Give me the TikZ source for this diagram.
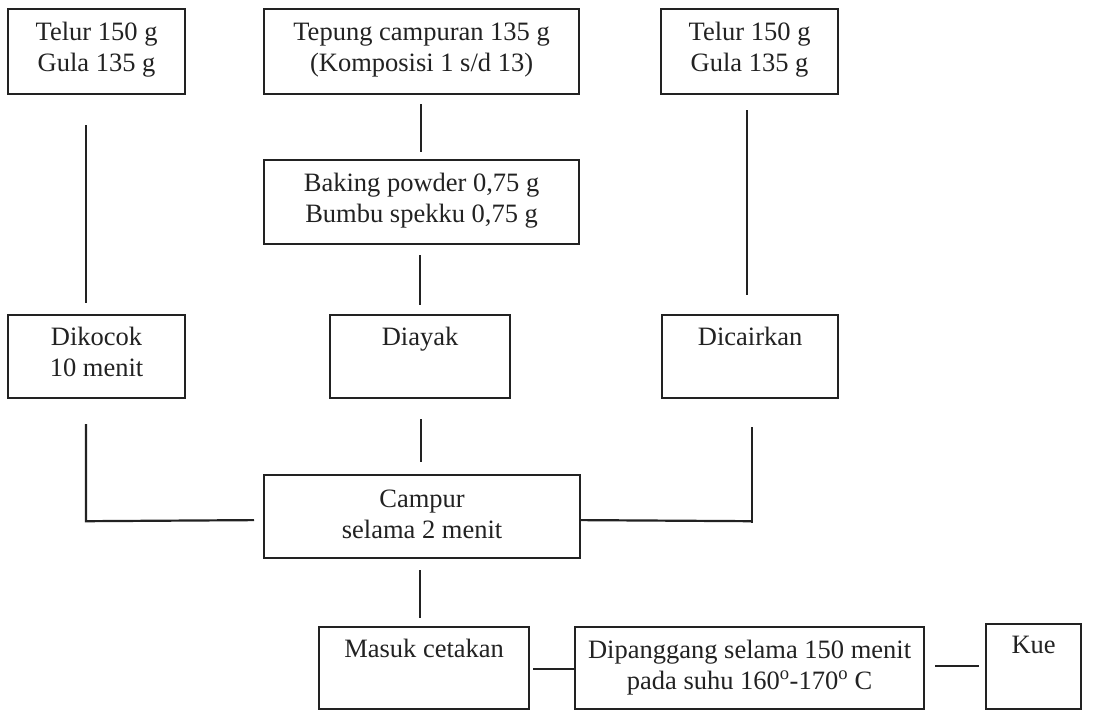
\documentclass[tikz,border=0pt]{standalone}
\usepackage{fontspec}
\setmainfont{Liberation Serif}
\usetikzlibrary{calc}
\definecolor{ink}{HTML}{222222}
\begin{document}
\begin{tikzpicture}[x=1pt,y=-1pt,
  box/.style={draw=ink, line width=2.2pt, anchor=north west, inner sep=0pt, rectangle},
  txt/.style={anchor=base, align=center, inner sep=0pt, font=\fontsize{26.5}{31}\selectfont, text=ink},
  link/.style={draw=ink, line width=2.2pt}]
\useasboundingbox (0,0) rectangle (1093,710);
\fill[white] (0,0) rectangle (1093,710);

% boxes
\node[box, minimum width=177pt, minimum height=85pt] (t1) at (7,8) {};
\node[box, minimum width=315pt, minimum height=85pt] (t2) at (263,8) {};
\node[box, minimum width=177pt, minimum height=85pt] (t3) at (660,8) {};
\node[box, minimum width=315pt, minimum height=84pt] (bp) at (263,159) {};
\node[box, minimum width=177pt, minimum height=83pt] (dk) at (7,314) {};
\node[box, minimum width=180pt, minimum height=83pt] (dy) at (329,314) {};
\node[box, minimum width=176pt, minimum height=83pt] (dc) at (661,314) {};
\node[box, minimum width=316pt, minimum height=83pt] (cp) at (263,474) {};
\node[box, minimum width=210pt, minimum height=82pt] (mc) at (318,626) {};
\node[box, minimum width=349pt, minimum height=82pt] (dp) at (574,626) {};
\node[box, minimum width=95pt, minimum height=85pt] (ku) at (985,623) {};

% texts (anchor=base of a two-line node is the baseline of its last line)
\node[txt] (t1t) at ($(t1.north)+(0,63)$) {Telur 150 g\\Gula 135 g};
\node[txt] (t2t) at ($(t2.north)+(0,63)$) {Tepung campuran 135 g\\(Komposisi 1 s/d 13)};
\node[txt] (t3t) at ($(t3.north)+(0,63)$) {Telur 150 g\\Gula 135 g};
\node[txt] (bpt) at ($(bp.north)+(0,63)$) {Baking powder 0,75 g\\Bumbu spekku 0,75 g};
\node[txt] (dkt) at ($(dk.north)+(0,62)$) {Dikocok\\10 menit};
\node[txt] (dyt) at ($(dy.north)+(0,31)$) {Diayak};
\node[txt] (dct) at ($(dc.north)+(0,31)$) {Dicairkan};
\node[txt] (cpt) at ($(cp.north)+(0,64)$) {Campur\\selama 2 menit};
\node[txt] (mct) at ($(mc.north)+(0,31)$) {Masuk cetakan};
\node[txt] (dpt) at ($(dp.north)+(0,63)$) {Dipanggang selama 150 menit\\pada suhu 160\textsuperscript{o}-170\textsuperscript{o} C};
\node[txt] (kut) at ($(ku.north)+(0,30)$) {Kue};

% connectors
\draw[link] ($(t1.south west)+(79,30)$) -- ($(dk.north west)+(79,-11)$);
\draw[link] ($(t2.south west)+(158,9)$) -- ($(bp.north west)+(158,-7)$);
\draw[link] ($(bp.south west)+(157,10)$) -- ($(dy.north west)+(91,-9)$);
\draw[link] ($(t3.south west)+(87,15)$) -- ($(dc.north west)+(86,-19)$);
\draw[link] ($(dk.south west)+(79,25)$) -- ($(dk.south west)+(79,122)$) -- ($(cp.west)+(-9,3.5)$);
\draw[link] ($(dy.south west)+(92,20)$) -- ($(cp.north west)+(158,-12)$);
\draw[link] ($(dc.south west)+(91,28)$) -- ($(dc.south west)+(91,124)$);
\draw[link] ($(cp.east)+(0,3.5)$) -- ($(dc.south west)+(91,122)$);
\draw[link] ($(cp.south west)+(157,11)$) -- ($(mc.north west)+(102,-8)$);
\draw[link] ($(mc.east)+(3,1)$) -- ($(dp.west)+(0,1)$);
\draw[link] ($(dp.east)+(10,-2)$) -- ($(ku.west)+(-6,-0.5)$);
\end{tikzpicture}
\end{document}
